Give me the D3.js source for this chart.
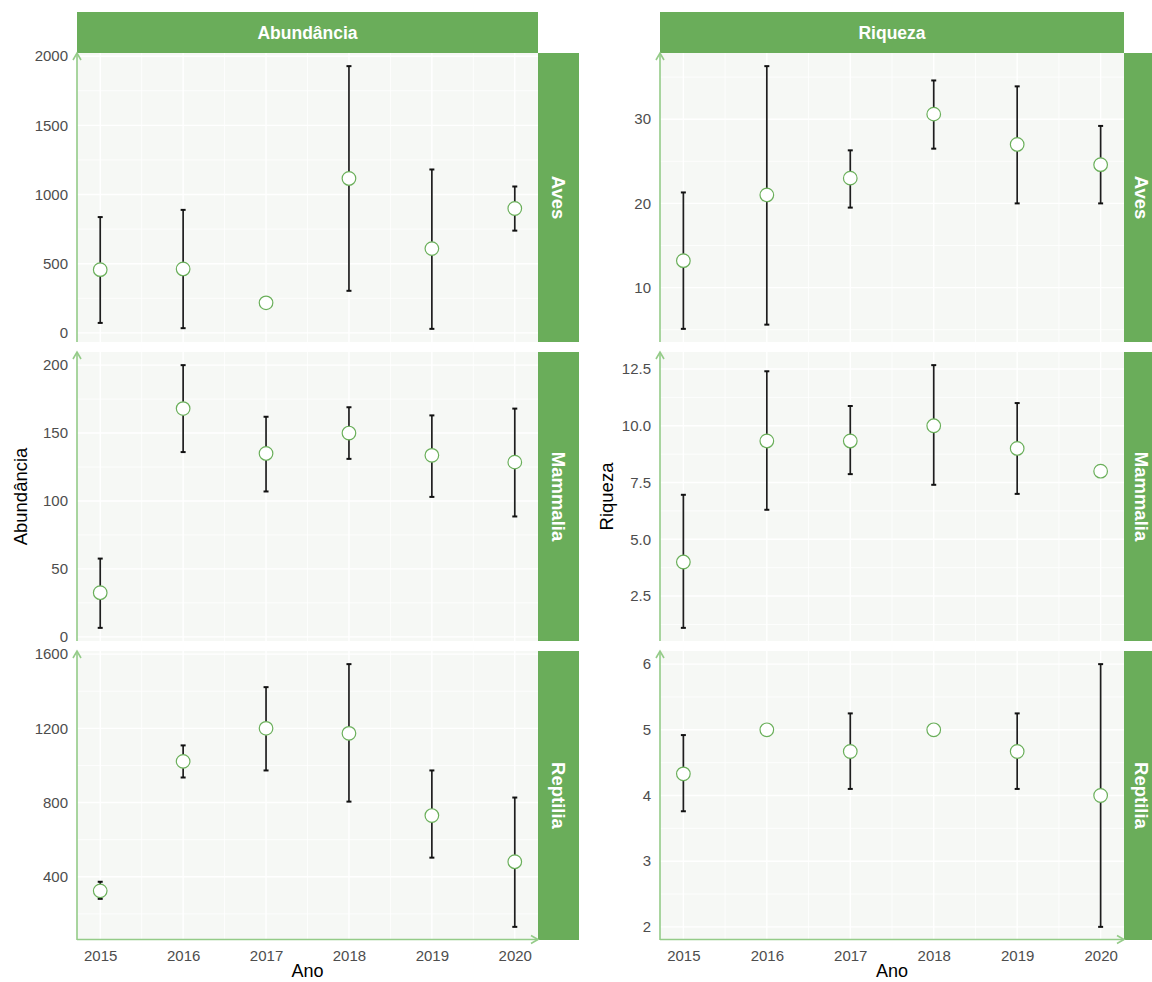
<!DOCTYPE html>
<html>
<head>
<meta charset="utf-8">
<script src="https://cdn.jsdelivr.net/npm/d3@7"></script>
<style>
  html, body { margin: 0; padding: 0; background: #ffffff; }
  svg { display: block; font-family: "Liberation Sans", Arial, sans-serif; }
</style>
</head>
<body>
<svg id="chart" width="1152" height="982"></svg>
<script>
// Categories
const years = ["2015", "2016", "2017", "2018", "2019", "2020"];
const groups = ["Aves", "Mammalia", "Reptilia"];
const metrics = ["Abundância", "Riqueza"];

// Abundância: mean and interval (null = no interval drawn)
const abundAvesMean = [457, 462, 217, 1116, 609, 899];
const abundAvesLow  = [72, 34, null, 304, 29, 739];
const abundAvesHigh = [837, 889, null, 1928, 1181, 1058];

const abundMammMean = [32.5, 168, 135, 150, 133.6, 128.6];
const abundMammLow  = [6.6, 136, 107, 131, 103, 88.6];
const abundMammHigh = [57.6, 200, 162, 169, 163, 168];

const abundReptMean = [324, 1022, 1200, 1173, 730, 481];
const abundReptLow  = [281, 935, 973, 805, 503, 130];
const abundReptHigh = [373, 1108, 1422, 1546, 973, 827];

// Riqueza: mean and interval
const riqAvesMean = [13.2, 21.0, 23.0, 30.6, 27.0, 24.6];
const riqAvesLow  = [5.1, 5.6, 19.5, 26.5, 20.0, 20.0];
const riqAvesHigh = [21.3, 36.3, 26.3, 34.6, 33.9, 29.2];

const riqMammMean = [4.0, 9.33, 9.33, 10.0, 9.0, 8.0];
const riqMammLow  = [1.1, 6.3, 7.87, 7.4, 7.0, null];
const riqMammHigh = [6.96, 12.4, 10.87, 12.67, 11.0, null];

const riqReptMean = [4.33, 5.0, 4.67, 5.0, 4.67, 4.0];
const riqReptLow  = [3.76, null, 4.1, null, 4.1, 2.0];
const riqReptHigh = [4.92, null, 5.25, null, 5.25, 6.0];

// Tick labels per panel
const abundAvesTicks = [0, 500, 1000, 1500, 2000];
const abundMammTicks = [0, 50, 100, 150, 200];
const abundReptTicks = [400, 800, 1200, 1600];
const riqAvesTicks = [10, 20, 30];
const riqMammTicks = [2.5, 5.0, 7.5, 10.0, 12.5];
const riqReptTicks = [2, 3, 4, 5, 6];

const panelData = {
  "Abundância": {
    Aves:     { mean: abundAvesMean, low: abundAvesLow, high: abundAvesHigh, ticks: abundAvesTicks, fmt: d3.format("d") },
    Mammalia: { mean: abundMammMean, low: abundMammLow, high: abundMammHigh, ticks: abundMammTicks, fmt: d3.format("d") },
    Reptilia: { mean: abundReptMean, low: abundReptLow, high: abundReptHigh, ticks: abundReptTicks, fmt: d3.format("d") }
  },
  "Riqueza": {
    Aves:     { mean: riqAvesMean, low: riqAvesLow, high: riqAvesHigh, ticks: riqAvesTicks, fmt: d3.format("d") },
    Mammalia: { mean: riqMammMean, low: riqMammLow, high: riqMammHigh, ticks: riqMammTicks, fmt: d3.format(".1f") },
    Reptilia: { mean: riqReptMean, low: riqReptLow, high: riqReptHigh, ticks: riqReptTicks, fmt: d3.format("d") }
  }
};

// Layout
const W = 1152;
const stripColor = "#6aad5a";
const axisColor = "#94cb88";
const panelBg = "#f6f8f5";
const pointStroke = "#6aaf5a";

const columns = [
  { metric: "Abundância", x0: 77, w: 461, titleX: 20 },
  { metric: "Riqueza",    x0: 660, w: 464, titleX: 606 }
];
const rowTops = [53, 352, 651];
const rowH = 289;
const stripTop = 12, stripH = 41, stripW = 41;

const svg = d3.select("#chart");

function arrowUp(g, x, y) {
  g.append("path")
    .attr("d", `M${x - 4},${y + 7} L${x},${y} L${x + 4},${y + 7}`)
    .attr("fill", "none").attr("stroke", axisColor).attr("stroke-width", 1.6);
}
function arrowRight(g, x, y) {
  g.append("path")
    .attr("d", `M${x - 7},${y - 4} L${x},${y} L${x - 7},${y + 4}`)
    .attr("fill", "none").attr("stroke", axisColor).attr("stroke-width", 1.6);
}

columns.forEach(col => {
  const x = d3.scalePoint().domain(years).range([col.x0, col.x0 + col.w]).padding(0.28);
  const step = x.step();

  // Top strip
  svg.append("rect")
    .attr("x", col.x0).attr("y", stripTop).attr("width", col.w).attr("height", stripH)
    .attr("fill", stripColor);
  svg.append("text")
    .attr("x", col.x0 + col.w / 2).attr("y", stripTop + stripH / 2)
    .attr("text-anchor", "middle").attr("dominant-baseline", "central")
    .attr("fill", "#ffffff").attr("font-weight", "bold").attr("font-size", 17.5)
    .text(col.metric);

  groups.forEach((grp, ri) => {
    const d = panelData[col.metric][grp];
    const top = rowTops[ri], bottom = top + rowH;

    const lows = d.low.map((v, i) => v == null ? d.mean[i] : v);
    const highs = d.high.map((v, i) => v == null ? d.mean[i] : v);
    const lo = d3.min(lows.concat(d.mean)), hi = d3.max(highs.concat(d.mean));
    const pad = (hi - lo) * 0.05;
    const y = d3.scaleLinear().domain([lo - pad, hi + pad]).range([bottom, top]);

    const g = svg.append("g");

    // Panel background
    g.append("rect")
      .attr("x", col.x0).attr("y", top).attr("width", col.w).attr("height", rowH)
      .attr("fill", panelBg);

    // Minor grid (midpoints between major breaks)
    const tStep = d.ticks[1] - d.ticks[0];
    const minors = [];
    for (let t = d.ticks[0] - tStep / 2; t <= d.ticks[d.ticks.length - 1] + tStep / 2 + 1e-9; t += tStep) {
      const yy = y(t);
      if (yy >= top && yy <= bottom) minors.push(t);
    }
    g.selectAll(".ming").data(minors).join("line")
      .attr("x1", col.x0).attr("x2", col.x0 + col.w)
      .attr("y1", v => y(v)).attr("y2", v => y(v))
      .attr("stroke", "#ffffff").attr("stroke-width", 0.8);
    const xMinors = years.slice(0, -1).map(yr => x(yr) + step / 2);
    g.selectAll(".minx").data(xMinors).join("line")
      .attr("x1", v => v).attr("x2", v => v)
      .attr("y1", top).attr("y2", bottom)
      .attr("stroke", "#ffffff").attr("stroke-width", 0.8);

    // Major grid
    g.selectAll(".majg").data(d.ticks).join("line")
      .attr("x1", col.x0).attr("x2", col.x0 + col.w)
      .attr("y1", v => y(v)).attr("y2", v => y(v))
      .attr("stroke", "#ffffff").attr("stroke-width", 1.4);
    g.selectAll(".majx").data(years).join("line")
      .attr("x1", v => x(v)).attr("x2", v => x(v))
      .attr("y1", top).attr("y2", bottom)
      .attr("stroke", "#ffffff").attr("stroke-width", 1.4);

    // Y axis labels
    const yAxis = d3.axisLeft(y).tickValues(d.ticks).tickFormat(d.fmt).tickSize(0).tickPadding(9);
    const ag = g.append("g").attr("transform", `translate(${col.x0},0)`).call(yAxis);
    ag.select(".domain").remove();
    ag.selectAll("text").attr("font-size", 15).attr("fill", "#4d4d4d")
      .attr("font-family", "'Liberation Sans', Arial, sans-serif");

    // Error bars
    const bars = years.map((yr, i) => ({ yr, low: d.low[i], high: d.high[i] }))
      .filter(b => b.low != null && b.high != null);
    g.selectAll(".eb").data(bars).join("line")
      .attr("x1", b => x(b.yr)).attr("x2", b => x(b.yr))
      .attr("y1", b => y(b.low)).attr("y2", b => y(b.high))
      .attr("stroke", "#1e1e1e").attr("stroke-width", 1.7);
    g.selectAll(".capT").data(bars).join("line")
      .attr("x1", b => x(b.yr) - 2.5).attr("x2", b => x(b.yr) + 2.5)
      .attr("y1", b => y(b.high)).attr("y2", b => y(b.high))
      .attr("stroke", "#111").attr("stroke-width", 2);
    g.selectAll(".capB").data(bars).join("line")
      .attr("x1", b => x(b.yr) - 2.5).attr("x2", b => x(b.yr) + 2.5)
      .attr("y1", b => y(b.low)).attr("y2", b => y(b.low))
      .attr("stroke", "#111").attr("stroke-width", 2);

    // Points
    g.selectAll(".pt").data(years.map((yr, i) => ({ yr, v: d.mean[i] }))).join("circle")
      .attr("cx", p => x(p.yr)).attr("cy", p => y(p.v)).attr("r", 6.8)
      .attr("fill", "#ffffff").attr("stroke", pointStroke).attr("stroke-width", 1.2);

    // Y axis line with arrow
    g.append("line")
      .attr("x1", col.x0).attr("x2", col.x0).attr("y1", bottom).attr("y2", top)
      .attr("stroke", axisColor).attr("stroke-width", 1.6);
    arrowUp(g, col.x0, top);

    // Right strip (kept inside the page width)
    const sx = col.x0 + col.w;
    const sw = Math.min(stripW, W - sx);
    g.append("rect")
      .attr("x", sx).attr("y", top).attr("width", sw).attr("height", rowH)
      .attr("fill", stripColor);
    g.append("text")
      .attr("transform", `translate(${Math.min(sx + stripW / 2, W - 11)},${top + rowH / 2}) rotate(90)`)
      .attr("text-anchor", "middle").attr("dominant-baseline", "central")
      .attr("fill", "#ffffff").attr("font-weight", "bold").attr("font-size", 18.5)
      .text(grp);

    // X axis on the bottom row
    if (ri === groups.length - 1) {
      g.append("line")
        .attr("x1", col.x0).attr("x2", col.x0 + col.w).attr("y1", bottom - 0.5).attr("y2", bottom - 0.5)
        .attr("stroke", axisColor).attr("stroke-width", 1.6);
      arrowRight(g, col.x0 + col.w, bottom - 0.5);
      const xAxis = d3.axisBottom(x).tickSize(0).tickPadding(10);
      const xg = g.append("g").attr("transform", `translate(0,${bottom})`).call(xAxis);
      xg.select(".domain").remove();
      xg.selectAll("text").attr("font-size", 15).attr("fill", "#4d4d4d")
        .attr("font-family", "'Liberation Sans', Arial, sans-serif");
    }
  });

  // Axis titles
  svg.append("text")
    .attr("x", col.x0 + col.w / 2).attr("y", 977)
    .attr("text-anchor", "middle").attr("font-size", 18).attr("fill", "#000")
    .text("Ano");
  svg.append("text")
    .attr("transform", `translate(${col.titleX},${(rowTops[0] + rowTops[2] + rowH) / 2}) rotate(-90)`)
    .attr("text-anchor", "middle").attr("dominant-baseline", "central")
    .attr("font-size", 18.5).attr("fill", "#000")
    .text(col.metric);
});
</script>
</body>
</html>
